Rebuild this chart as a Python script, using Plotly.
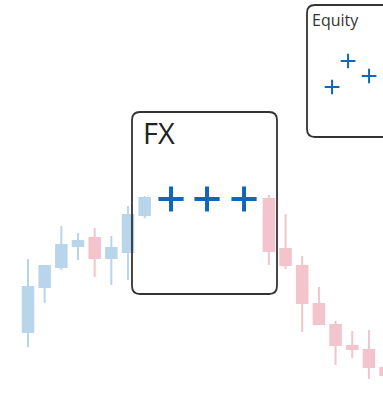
import plotly.graph_objects as go

# candles: x position (in candle steps), open / high / low / close
cx = [0, 1, 2, 3, 4, 5, 6, 7, 14.45, 15.45, 16.45, 17.45, 18.45, 19.45, 20.45, 21.45]
c_open = [64, 109, 129, 150, 158, 138, 144, 181, 197, 147, 130, 92, 71, 50, 46, 28]
c_high = [137, 131, 170, 163, 168, 160, 190, 200, 201, 182, 140, 109, 75, 65, 66, 32]
c_low = [49, 93, 126, 136, 119, 111, 116, 178, 131, 127, 64, 71, 31, 38, 17, 14]
c_close = [109, 130, 151, 155, 138, 148, 181, 198, 145, 131, 93, 72, 51, 47, 29, 21]

# crosses in the FX box
fx_x = [8.58, 10.74, 12.96]
fx_y = [197, 197, 197]

# crosses in the Equity box
eq_x = [18.24, 19.2, 20.46]
eq_y = [309, 335, 320]

C_UP, C_DN = "#b9d5ec", "#f3c3ce"
C_CROSS = "#0f66bb"
C_BOX = "#333333"

STEP = 16.67  # px per candle step
X0 = 28       # px of candle 0


def px_x(p):
    return (p - X0) / STEP


def px_y(p):
    return 396 - p


def rounded_box(x0, y0, x1, y1, r=8):
    """Rounded rectangle path from pixel coords (y down)."""
    rx, ry = r / STEP, r
    L, R = px_x(x0), px_x(x1)
    T, B = px_y(y0), px_y(y1)
    return (f"M {L + rx},{T} L {R - rx},{T} Q {R},{T} {R},{T - ry} "
            f"L {R},{B + ry} Q {R},{B} {R - rx},{B} L {L + rx},{B} "
            f"Q {L},{B} {L},{B + ry} L {L},{T - ry} Q {L},{T} {L + rx},{T} Z")


fig = go.Figure()
fig.add_trace(go.Candlestick(
    x=cx, open=c_open, high=c_high, low=c_low, close=c_close,
    increasing=dict(fillcolor=C_UP, line=dict(color=C_UP, width=2)),
    decreasing=dict(fillcolor=C_DN, line=dict(color=C_DN, width=2)),
    whiskerwidth=0, hoverinfo="skip", showlegend=False,
))
fig.add_trace(go.Scatter(
    x=fx_x, y=fx_y, mode="markers", showlegend=False, hoverinfo="skip",
    marker=dict(symbol="cross-thin", size=18, line=dict(color=C_CROSS, width=4)),
))
fig.add_trace(go.Scatter(
    x=eq_x, y=eq_y, mode="markers", showlegend=False, hoverinfo="skip",
    marker=dict(symbol="cross-thin", size=10.5, line=dict(color=C_CROSS, width=2)),
))

fig.add_shape(type="path", path=rounded_box(132, 112, 277, 294),
              line=dict(color=C_BOX, width=1.8), layer="above")
fig.add_shape(type="path", path=rounded_box(307, 5, 420, 137),
              line=dict(color=C_BOX, width=1.8), layer="above")

fig.add_annotation(x=px_x(141), y=px_y(132), text="FX", showarrow=False,
                   xanchor="left", yanchor="middle",
                   font=dict(family="Open Sans", size=29, color="#222222"))
fig.add_annotation(x=px_x(310), y=px_y(20), text="Equity", showarrow=False,
                   xanchor="left", yanchor="middle",
                   font=dict(family="Open Sans", size=16, color="#333333"))

fig.update_layout(
    width=383, height=396, autosize=False,
    margin=dict(l=0, r=0, t=0, b=0),
    paper_bgcolor="white", plot_bgcolor="white",
    boxgap=0.1, boxgroupgap=0.3,
    xaxis=dict(range=[px_x(0), px_x(383)], visible=False, rangeslider=dict(visible=False),
               fixedrange=True),
    yaxis=dict(range=[0, 396], visible=False, fixedrange=True),
)
fig.write_html("out.html", config={"displayModeBar": False},
               post_script="document.body.style.margin='0';")
